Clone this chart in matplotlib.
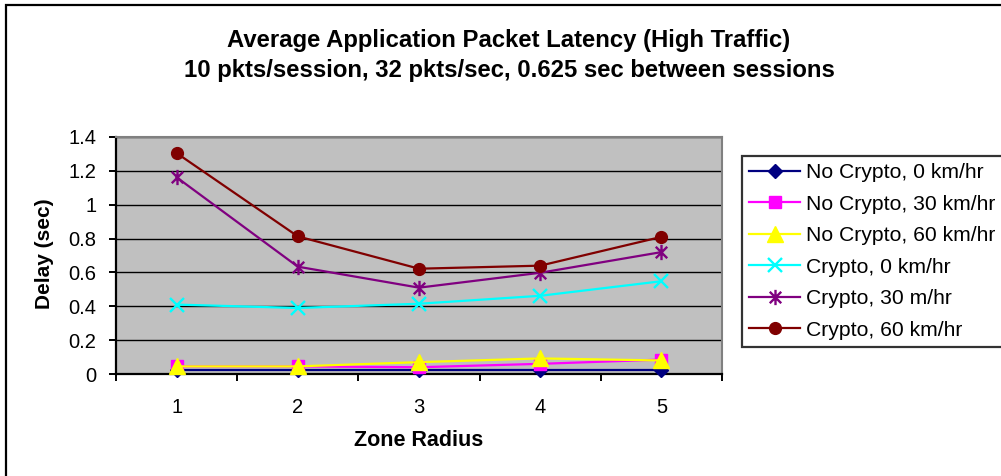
import numpy as np
import matplotlib; matplotlib.use("Agg")
import matplotlib.pyplot as plt
from matplotlib.path import Path
from matplotlib.patches import Rectangle
from matplotlib.ticker import FixedLocator, FuncFormatter

plt.rcParams["font.family"] = ["Liberation Sans", "DejaVu Sans"]

# data
zone_radius = [1, 2, 3, 4, 5]
nocrypto_0  = [0.025, 0.025, 0.025, 0.025, 0.025]
nocrypto_30 = [0.045, 0.045, 0.040, 0.060, 0.085]
nocrypto_60 = [0.045, 0.045, 0.070, 0.092, 0.080]
crypto_0    = [0.410, 0.390, 0.415, 0.462, 0.548]
crypto_30   = [1.162, 0.634, 0.510, 0.598, 0.720]
crypto_60   = [1.305, 0.813, 0.622, 0.640, 0.810]
series_labels = ["No Crypto, 0 km/hr", "No Crypto, 30 km/hr", "No Crypto, 60 km/hr",
                 "Crypto, 0 km/hr", "Crypto, 30 m/hr", "Crypto, 60 km/hr"]
y_ticks = [0, 0.2, 0.4, 0.6, 0.8, 1.0, 1.2, 1.4]

W, H = 1001, 476
fig = plt.figure(figsize=(W / 100, H / 100), dpi=100)
fig.patch.set_facecolor("white")

def fx(px): return px / W
def fy(py): return 1 - py / H

# outer chart border (cut at right/bottom like the reference)
fig.patches.append(Rectangle((fx(6), -0.05), 1.1, fy(5) + 0.05, transform=fig.transFigure,
                             fill=False, ec="black", lw=1.6, zorder=0))

ax = fig.add_axes([fx(116), fy(374), fx(722) - fx(116), fy(137) - fy(374)])
ax.set_facecolor("#C0C0C0")
ax.set_xlim(0.5, 5.5); ax.set_ylim(0, 1.4)

# excel-style star: X plus vertical bar
star = Path([(0, -1), (0, 1), (-0.75, -0.75), (0.75, 0.75), (-0.75, 0.75), (0.75, -0.75)],
            [Path.MOVETO, Path.LINETO, Path.MOVETO, Path.LINETO, Path.MOVETO, Path.LINETO])

styles = [
    dict(color="#000080", marker="D", ms=7),
    dict(color="#FF00FF", marker="s", ms=8),
    dict(color="#FFFF00", marker="^", ms=11),
    dict(color="#00FFFF", marker="x", ms=10, mew=1.7),
    dict(color="#800080", marker=star, ms=11, mew=1.7),
    dict(color="#800000", marker="o", ms=8.5),
]
for vals, lab, st in zip([nocrypto_0, nocrypto_30, nocrypto_60, crypto_0, crypto_30, crypto_60],
                         series_labels, styles):
    ax.plot(zone_radius, vals, lw=1.6, label=lab, clip_on=False, zorder=3, **st)

# grid + spines
ax.yaxis.set_major_locator(FixedLocator(y_ticks))
ax.yaxis.set_major_formatter(FuncFormatter(lambda v, p: f"{v:g}"))
ax.grid(axis="y", color="black", lw=1.0, zorder=1)
ax.set_axisbelow(True)
for s in ("top", "right"):
    ax.spines[s].set_color("#808080"); ax.spines[s].set_linewidth(1.5)
for s in ("left", "bottom"):
    ax.spines[s].set_color("black"); ax.spines[s].set_linewidth(1.6)

ax.xaxis.set_major_locator(FixedLocator(np.arange(0.5, 6.0, 1.0)))
ax.xaxis.set_minor_locator(FixedLocator(zone_radius))
ax.xaxis.set_major_formatter(FuncFormatter(lambda v, p: ""))
ax.xaxis.set_minor_formatter(FuncFormatter(lambda v, p: f"{int(v)}"))
ax.tick_params(axis="x", which="major", direction="out", length=5, width=1.4)
ax.tick_params(axis="x", which="minor", length=0, pad=17, labelsize=14.5)
ax.tick_params(axis="y", direction="out", length=5, width=1.4, pad=9, labelsize=14.5)

fig.text(fx(45), fy(254), "Delay (sec)", rotation=90, ha="center", va="center",
         fontsize=15, fontweight="bold")
fig.text(fx(419), fy(441), "Zone Radius", ha="center", va="center",
         fontsize=15.5, fontweight="bold")
fig.text(fx(509), fy(40), "Average Application Packet Latency (High Traffic)",
         ha="center", va="center", fontsize=17.2, fontweight="bold")
fig.text(fx(509), fy(71), "10 pkts/session, 32 pkts/sec, 0.625 sec between sessions",
         ha="center", va="center", fontsize=17.2, fontweight="bold")

leg = fig.legend(loc="upper left", bbox_to_anchor=(fx(742), fy(156)), borderaxespad=0,
                 fontsize=15.2, frameon=True, fancybox=False, handlelength=2.4,
                 handletextpad=0.3, labelspacing=0.59, borderpad=0.35)
leg.get_frame().set_edgecolor("black"); leg.get_frame().set_linewidth(1.6)

fig.savefig("out.png", dpi=100)
